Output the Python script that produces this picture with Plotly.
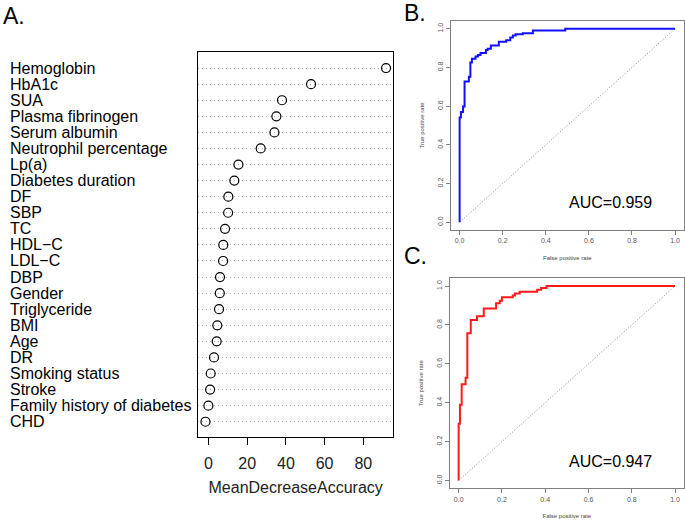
import plotly.graph_objects as go

W, H = 685, 521

features = ["Hemoglobin", "HbA1c", "SUA", "Plasma fibrinogen", "Serum albumin",
            "Neutrophil percentage", "Lp(a)", "Diabetes duration", "DF", "SBP", "TC",
            "HDL\u2212C", "LDL\u2212C", "DBP", "Gender", "Triglyceride", "BMI", "Age", "DR",
            "Smoking status", "Stroke", "Family history of diabetes", "CHD"]
mda = [91.7, 53.0, 38.0, 35.1, 34.1, 27.0, 15.5, 13.4, 10.3, 10.2, 8.6, 7.7, 7.6,
       6.0, 5.9, 5.5, 4.6, 4.3, 2.9, 1.2, 0.9, 0.0, -1.5]
mda_ticks = [0, 20, 40, 60, 80]

fpr_b = [0, 0, 0.006, 0.016, 0.023, 0.043, 0.05, 0.057, 0.074, 0.085, 0.097, 0.122,
         0.13, 0.145, 0.182, 0.216, 0.235, 0.247, 0.26, 0.293, 0.34, 0.49, 1.0]
tpr_b = [0, 0.541, 0.57, 0.598, 0.728, 0.752, 0.825, 0.845, 0.856, 0.864, 0.874, 0.89,
         0.897, 0.914, 0.933, 0.941, 0.955, 0.965, 0.972, 0.977, 0.991, 1.0, 1.0]
auc_b = "AUC=0.959"

fpr_c = [0, 0, 0.006, 0.014, 0.032, 0.04, 0.056, 0.085, 0.116, 0.173, 0.19, 0.2,
         0.25, 0.26, 0.282, 0.363, 0.381, 0.406, 1.0]
tpr_c = [0, 0.292, 0.39, 0.495, 0.529, 0.758, 0.825, 0.845, 0.885, 0.912, 0.924, 0.942,
         0.952, 0.962, 0.971, 0.981, 0.99, 1.0, 1.0]
auc_c = "AUC=0.947"

roc_ticks = [0.0, 0.2, 0.4, 0.6, 0.8, 1.0]
roc_ticktext = ["0.0", "0.2", "0.4", "0.6", "0.8", "1.0"]


def dx(px):
    return px / W


def dy(py):
    return 1 - py / H


FONT = "Liberation Sans, Arial, sans-serif"
GRAY = "#808080"

fig = go.Figure()

# Panel A: dot chart
fig.add_trace(go.Scatter(
    x=mda, y=features, mode="markers", xaxis="x", yaxis="y",
    marker=dict(symbol="circle-open", size=9, color="black", line=dict(width=1.2, color="black")),
    showlegend=False, hoverinfo="x+y"))

# Panel B ROC
fig.add_trace(go.Scatter(x=[0, 1], y=[0, 1], mode="lines", xaxis="x2", yaxis="y2",
                         line=dict(color="#888888", width=1, dash="1px,2px"), showlegend=False))
fig.add_trace(go.Scatter(x=fpr_b, y=tpr_b, mode="lines", xaxis="x2", yaxis="y2",
                         line=dict(color="#1010ff", width=2, shape="hv"), showlegend=False))

# Panel C ROC
fig.add_trace(go.Scatter(x=[0, 1], y=[0, 1], mode="lines", xaxis="x3", yaxis="y3",
                         line=dict(color="#888888", width=1, dash="1px,2px"), showlegend=False))
fig.add_trace(go.Scatter(x=fpr_c, y=tpr_c, mode="lines", xaxis="x3", yaxis="y3",
                         line=dict(color="#ff1a1a", width=2, shape="hv"), showlegend=False))

roc_axis_common = dict(
    range=[-0.04, 1.04], showline=True, mirror=True, linecolor=GRAY, linewidth=1,
    ticks="outside", ticklen=4, tickcolor=GRAY, tickwidth=1,
    tickvals=roc_ticks, ticktext=roc_ticktext,
    tickfont=dict(size=7, color="#555555", family=FONT),
    showgrid=False, zeroline=False,
)

annotations = []
for name in features:
    annotations.append(dict(x=dx(8), xref="paper", y=name, yref="y", text=name,
                            xanchor="left", yanchor="middle", showarrow=False,
                            font=dict(size=16, color="black", family=FONT)))

annotations += [
    dict(x=dx(1), y=dy(16), xref="paper", yref="paper", text="A.", showarrow=False,
         xanchor="left", yanchor="middle", font=dict(size=23, color="black", family=FONT)),
    dict(x=dx(402), y=dy(13), xref="paper", yref="paper", text="B.", showarrow=False,
         xanchor="left", yanchor="middle", font=dict(size=23, color="black", family=FONT)),
    dict(x=dx(402), y=dy(256), xref="paper", yref="paper", text="C.", showarrow=False,
         xanchor="left", yanchor="middle", font=dict(size=23, color="black", family=FONT)),
    dict(x=0.70, y=0.10, xref="x2", yref="y2", text=auc_b, showarrow=False,
         xanchor="center", yanchor="middle", font=dict(size=16, color="black", family=FONT)),
    dict(x=0.70, y=0.10, xref="x3", yref="y3", text=auc_c, showarrow=False,
         xanchor="center", yanchor="middle", font=dict(size=16, color="black", family=FONT)),
]

fig.update_layout(
    width=W, height=H,
    margin=dict(l=0, r=0, t=0, b=0, autoexpand=False),
    paper_bgcolor="white", plot_bgcolor="white",
    font=dict(family=FONT, color="black"),
    xaxis=dict(
        domain=[dx(198.3), dx(393)], range=[-5.2, 95.3],
        showline=True, mirror=True, linecolor="black", linewidth=1,
        ticks="outside", ticklen=7, tickcolor="black", tickvals=mda_ticks,
        ticklabelstandoff=5,
        tickfont=dict(size=16, color="#222222"), showgrid=False, zeroline=False,
        title=dict(text="MeanDecreaseAccuracy", font=dict(size=16, color="#222222"), standoff=10),
        anchor="y",
    ),
    yaxis=dict(
        domain=[dy(437), dy(52)], type="category",
        categoryorder="array", categoryarray=features[::-1],
        range=[-0.95, 23.0], showline=True, mirror=True, linecolor="black", linewidth=1,
        showticklabels=False, ticks="", showgrid=True, gridcolor="#b0b0b0",
        griddash="1px,3px", gridwidth=1, zeroline=False, anchor="x",
    ),
    xaxis2=dict(domain=[dx(451), dx(683.7)], anchor="y2",
                title=dict(text="False positive rate", font=dict(size=6, color="#444444"), standoff=12),
                **roc_axis_common),
    yaxis2=dict(domain=[dy(230), dy(21)], anchor="x2", tickangle=-90,
                title=dict(text="True positive rate", font=dict(size=6, color="#444444"), standoff=12),
                **roc_axis_common),
    xaxis3=dict(domain=[dx(450), dx(683.7)], anchor="y3",
                title=dict(text="False positive rate", font=dict(size=6, color="#444444"), standoff=12),
                **roc_axis_common),
    yaxis3=dict(domain=[dy(488.3), dy(278.3)], anchor="x3", tickangle=-90,
                title=dict(text="True positive rate", font=dict(size=6, color="#444444"), standoff=12),
                **roc_axis_common),
    annotations=annotations,
)

fig.write_html("out.html", config={"displayModeBar": False},
               post_script="document.body.style.margin='0px';document.body.style.overflow='hidden';")
